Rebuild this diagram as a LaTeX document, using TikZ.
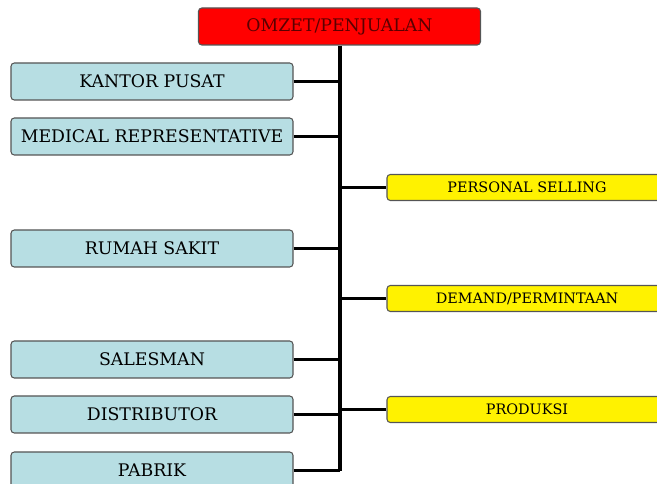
\documentclass[tikz,border=0pt]{standalone}
\usepackage{fontspec}
\setmainfont{DejaVu Serif}
\definecolor{boxblue}{RGB}{183,222,227}
\definecolor{boxline}{RGB}{85,85,85}
\definecolor{topred}{RGB}{255,0,0}
\definecolor{toptext}{RGB}{90,0,0}
\begin{document}
\begin{tikzpicture}[x=0.75pt,y=-0.75pt]
        \tikzstyle{factor}=[rectangle,rounded corners=2.5pt,draw=boxline,line width=0.8pt,fill=boxblue,minimum width=211.5pt,minimum height=27.75pt,inner sep=0pt,font=\fontsize{13}{15}\selectfont]
        \tikzstyle{result}=[rectangle,rounded corners=2.5pt,draw=boxline,line width=0.8pt,fill=yellow,minimum width=210pt,minimum height=19.5pt,inner sep=0pt,font=\fontsize{10.8}{12}\selectfont]
        \tikzstyle{trunk}=[draw,line width=3pt]
        \tikzstyle{branch}=[draw,line width=2.25pt]
       \useasboundingbox (0,0) rectangle (657,484);
       \clip (0,0) rectangle (657,484);
       \begin{scope}
         \node [factor,fill=topred,text=toptext] (omzet) at (339.5,26.5) {OMZET/PENJUALAN};
         \coordinate (trunkend) at (339.5,471);
         \path[trunk] (omzet.south) -- (trunkend);
         \node [factor] (kantor) at (152,81.5) {KANTOR PUSAT};
         \node [factor] (medrep) at (152,136.5) {MEDICAL REPRESENTATIVE};
         \node [factor] (rs) at (152,248.5) {RUMAH SAKIT};
         \node [factor] (sales) at (152,359.5) {SALESMAN};
         \node [factor] (distr) at (152,414.5) {DISTRIBUTOR};
         \node [factor] (pabrik) at (152,470.5) {PABRIK};
         \node [result] (selling) at (527,187.5) {PERSONAL SELLING};
         \node [result] (demand) at (527,298.5) {DEMAND/PERMINTAAN};
         \node [result] (produksi) at (527,409.5) {PRODUKSI};
         \path[branch] (kantor) -- (kantor -| omzet);
         \path[branch] (medrep) -- (medrep -| omzet);
         \path[branch] (rs) -- (rs -| omzet);
         \path[branch] (sales) -- (sales -| omzet);
         \path[branch] (distr) -- (distr -| omzet);
         \path[branch] (pabrik) -- (pabrik -| omzet);
         \path[branch] (omzet |- selling) -- (selling);
         \path[branch] (omzet |- demand) -- (demand);
         \path[branch] (omzet |- produksi) -- (produksi);
        \end{scope}
      \end{tikzpicture}
\end{document}
